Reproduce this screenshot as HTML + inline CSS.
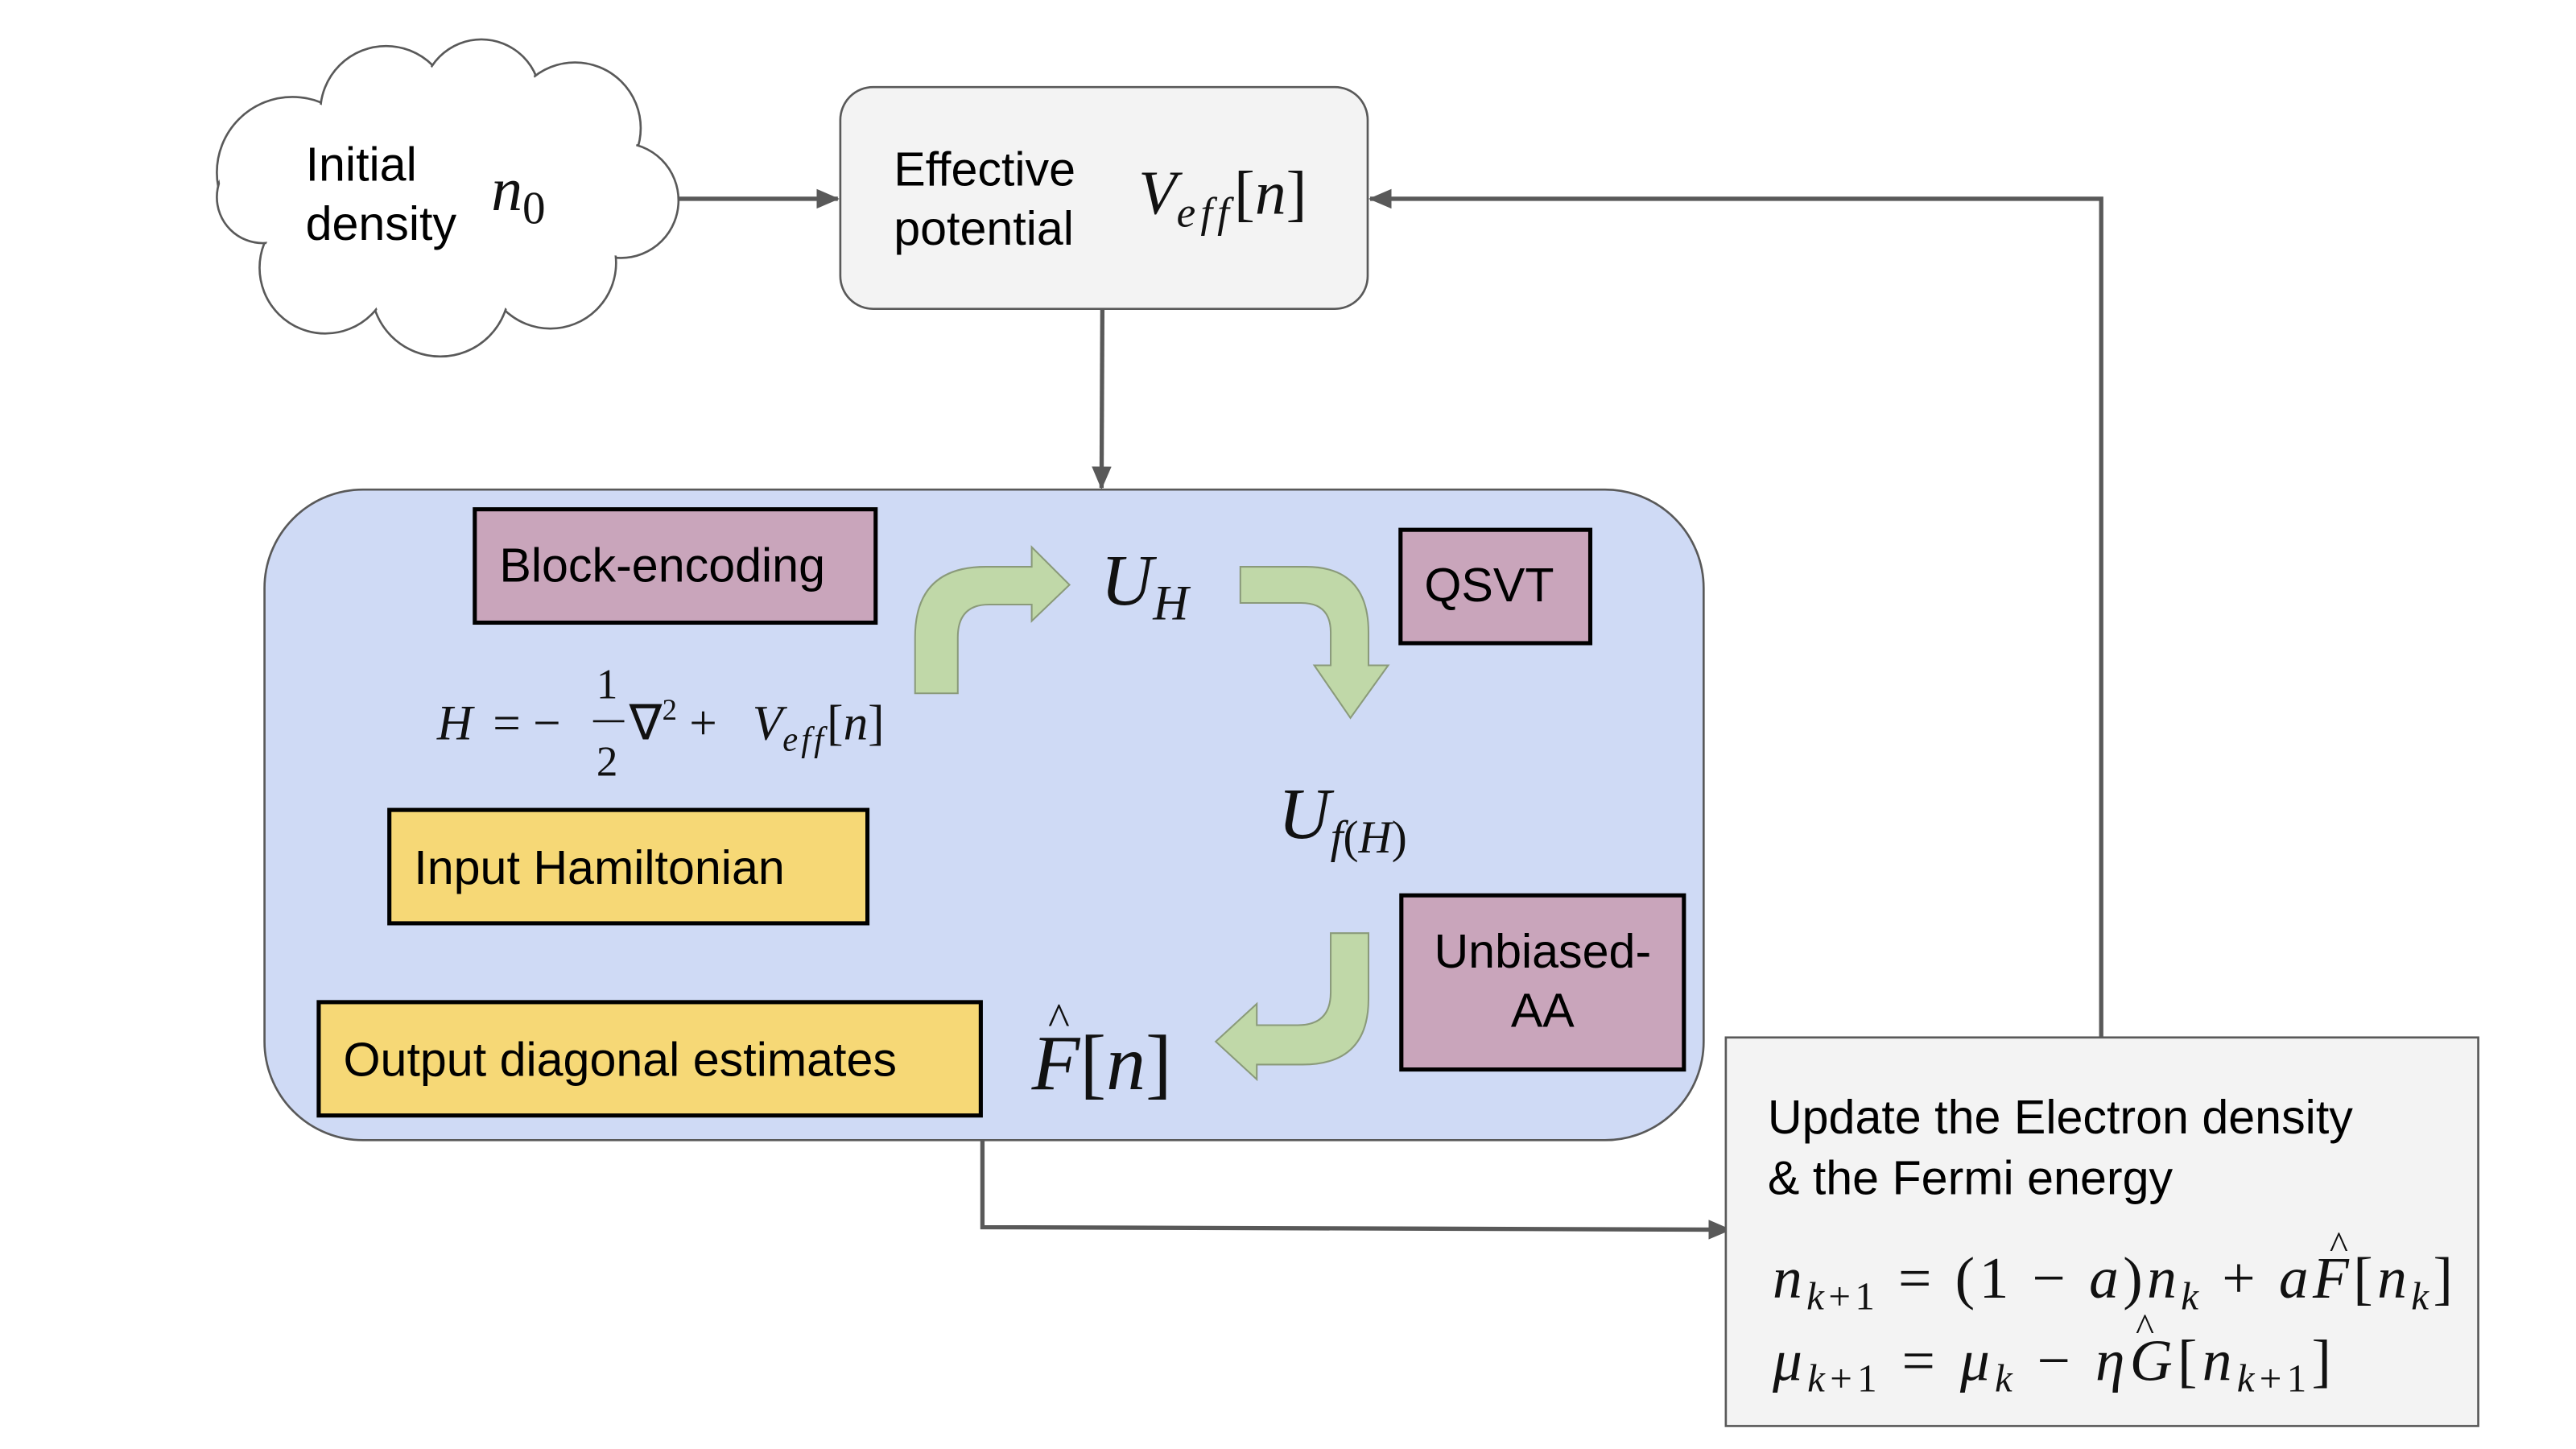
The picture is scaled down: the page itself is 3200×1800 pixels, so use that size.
<!DOCTYPE html>
<html><head><meta charset="utf-8"><style>
html,body{margin:0;padding:0;background:#fff;}
svg{display:block;}
.s{font-family:"Liberation Sans",sans-serif;fill:#000;}
.m{font-family:"Liberation Serif",serif;font-style:italic;fill:#111;}
.r{font-family:"Liberation Serif",serif;fill:#111;}
</style></head><body>
<svg width="3200" height="1800" viewBox="0 0 1568 882" xmlns="http://www.w3.org/2000/svg">
<defs>
<marker id="ah" markerWidth="14" markerHeight="12" refX="13" refY="6" orient="auto" markerUnits="userSpaceOnUse">
<path d="M0,0 L14,6 L0,12 Z" fill="#595959"/></marker>
</defs>
<!-- cloud -->
<g stroke="#595959" stroke-width="1.3" fill="#fff">
<circle cx="178" cy="105" r="46"/>
<circle cx="235" cy="68" r="40"/>
<circle cx="293" cy="60" r="36"/>
<circle cx="350" cy="78" r="40"/>
<circle cx="378" cy="122" r="35"/>
<circle cx="335" cy="160" r="40"/>
<circle cx="268" cy="175" r="42"/>
<circle cx="198" cy="163" r="40"/>
<circle cx="160" cy="120" r="28"/>
</g>
<g fill="#fff">
<circle cx="178" cy="105" r="44.7"/>
<circle cx="235" cy="68" r="38.7"/>
<circle cx="293" cy="60" r="34.7"/>
<circle cx="350" cy="78" r="38.7"/>
<circle cx="378" cy="122" r="33.7"/>
<circle cx="335" cy="160" r="38.7"/>
<circle cx="268" cy="175" r="40.7"/>
<circle cx="198" cy="163" r="38.7"/>
<circle cx="160" cy="120" r="26.7"/>
<ellipse cx="270" cy="120" rx="110" ry="60"/>
</g>
<text class="s" x="186" y="110" font-size="29">Initial</text>
<text class="s" x="186" y="146" font-size="29">density</text>
<text class="m" x="299" y="128" font-size="38">n<tspan font-style="normal" font-size="28" dy="8">0</tspan></text>

<!-- connectors -->
<g stroke="#595959" stroke-width="2.6" fill="none">
<line x1="413" y1="121" x2="510" y2="121" marker-end="url(#ah)"/>
<line x1="671" y1="188" x2="670.5" y2="297" marker-end="url(#ah)"/>
<polyline points="1279,631 1279,121 834,121" marker-end="url(#ah)"/>
<polyline points="598,694 598,747 1053,748.5" marker-end="url(#ah)"/>
</g>

<!-- effective potential -->
<rect x="511.5" y="53" width="321" height="135" rx="20" fill="#f3f3f3" stroke="#595959" stroke-width="1.3"/>
<text class="s" x="544" y="113" font-size="29">Effective</text>
<text class="s" x="544" y="149" font-size="29">potential</text>
<text class="m" x="693" y="130" font-size="38">V<tspan font-size="26" dy="8" letter-spacing="3">eff</tspan><tspan font-style="normal" dy="-8">[</tspan>n<tspan font-style="normal">]</tspan></text>

<!-- blue container -->
<rect x="161" y="298" width="876" height="396" rx="60" fill="#cfdaf5" stroke="#595959" stroke-width="1.3"/>

<!-- boxes -->
<g stroke="#000" stroke-width="2.5">
<rect x="289" y="310" width="244" height="69" fill="#c9a5bb"/>
<rect x="852.5" y="322.5" width="115.5" height="69" fill="#c9a5bb"/>
<rect x="853" y="545" width="172" height="106" fill="#c9a5bb"/>
<rect x="237" y="493" width="291" height="69" fill="#f6d876"/>
<rect x="194" y="610" width="403" height="69" fill="#f6d876"/>
</g>
<text class="s" x="304" y="354" font-size="29">Block-encoding</text>
<text class="s" x="867" y="366" font-size="29">QSVT</text>
<text class="s" x="939" y="589" font-size="29" text-anchor="middle">Unbiased-</text>
<text class="s" x="939" y="625" font-size="29" text-anchor="middle">AA</text>
<text class="s" x="252" y="538" font-size="29">Input Hamiltonian</text>
<text class="s" x="209" y="655" font-size="29">Output diagonal estimates</text>

<!-- green arrows -->
<g fill="#c0d8a8" stroke="#8a9a7a" stroke-width="1">
<path d="M557,422 L557,388 Q557,345 600,345 L628,345 L628,333 L651,356 L628,378 L628,368 L602,368 Q583,368 583,388 L583,422 Z"/>
<path d="M755,345 L795,345 Q833,345 833,385 L833,405 L845,405 L822,437 L800,405 L810,405 L810,385 Q810,367 792,367 L755,367 Z"/>
<path d="M810,568 L833,568 L833,608 Q833,648 793,648 L765,648 L765,657 L740,634 L765,611 L765,624 L790,624 Q810,624 810,604 Z"/>
</g>

<!-- math in container -->
<text class="m" x="670" y="368" font-size="44">U<tspan font-size="30" dy="9">H</tspan></text>
<text class="m" x="778" y="510" font-size="44">U<tspan font-size="28" dy="9">f</tspan><tspan font-size="28" font-style="normal">(</tspan><tspan font-size="28">H</tspan><tspan font-size="28" font-style="normal">)</tspan></text>
<text class="m" x="628" y="663" font-size="48">F<tspan font-style="normal">[</tspan>n<tspan font-style="normal">]</tspan></text>
<text class="r" x="638" y="630" font-size="28">^</text>

<text class="m" x="266" y="450" font-size="30">H</text>
<text class="r" x="300" y="450" font-size="30">= −</text>
<text class="r" x="363" y="425" font-size="26">1</text>
<line x1="361" y1="439" x2="380" y2="439" stroke="#111" stroke-width="1.3"/>
<text class="r" x="363" y="472" font-size="26">2</text>
<text class="r" x="383" y="450" font-size="30">∇<tspan font-size="18" dy="-12">2</tspan><tspan dy="12"> + </tspan></text>
<text class="m" x="458" y="450" font-size="30">V<tspan font-size="21" dy="7" letter-spacing="2">eff</tspan><tspan font-style="normal" dy="-7">[</tspan>n<tspan font-style="normal">]</tspan></text>

<!-- update box -->
<rect x="1050.5" y="631.5" width="458" height="236.5" fill="#f3f3f3" stroke="#595959" stroke-width="1.3"/>
<text class="s" x="1076" y="690" font-size="29">Update the Electron density</text>
<text class="s" x="1076" y="727" font-size="29">&amp; the Fermi energy</text>
<text class="m" x="1079" y="790" font-size="36" textLength="414" lengthAdjust="spacing">n<tspan font-size="24" dy="7">k</tspan><tspan font-size="24" font-style="normal">+1</tspan><tspan font-style="normal" dy="-7"> = (1 − </tspan>a<tspan font-style="normal">)</tspan>n<tspan font-size="24" dy="7">k</tspan><tspan font-style="normal" dy="-7"> + </tspan>aF<tspan font-style="normal">[</tspan>n<tspan font-size="24" dy="7">k</tspan><tspan font-style="normal" dy="-7">]</tspan></text>
<text class="r" x="1418" y="766" font-size="24">^</text>
<text class="m" x="1079" y="840" font-size="36" textLength="340" lengthAdjust="spacing">μ<tspan font-size="24" dy="7">k</tspan><tspan font-size="24" font-style="normal">+1</tspan><tspan font-style="normal" dy="-7"> = </tspan>μ<tspan font-size="24" dy="7">k</tspan><tspan font-style="normal" dy="-7"> − </tspan>ηG<tspan font-style="normal">[</tspan>n<tspan font-size="24" dy="7">k</tspan><tspan font-size="24" font-style="normal">+1</tspan><tspan font-style="normal" dy="-7">]</tspan></text>
<text class="r" x="1300" y="816" font-size="24">^</text>
</svg>
</body></html>
